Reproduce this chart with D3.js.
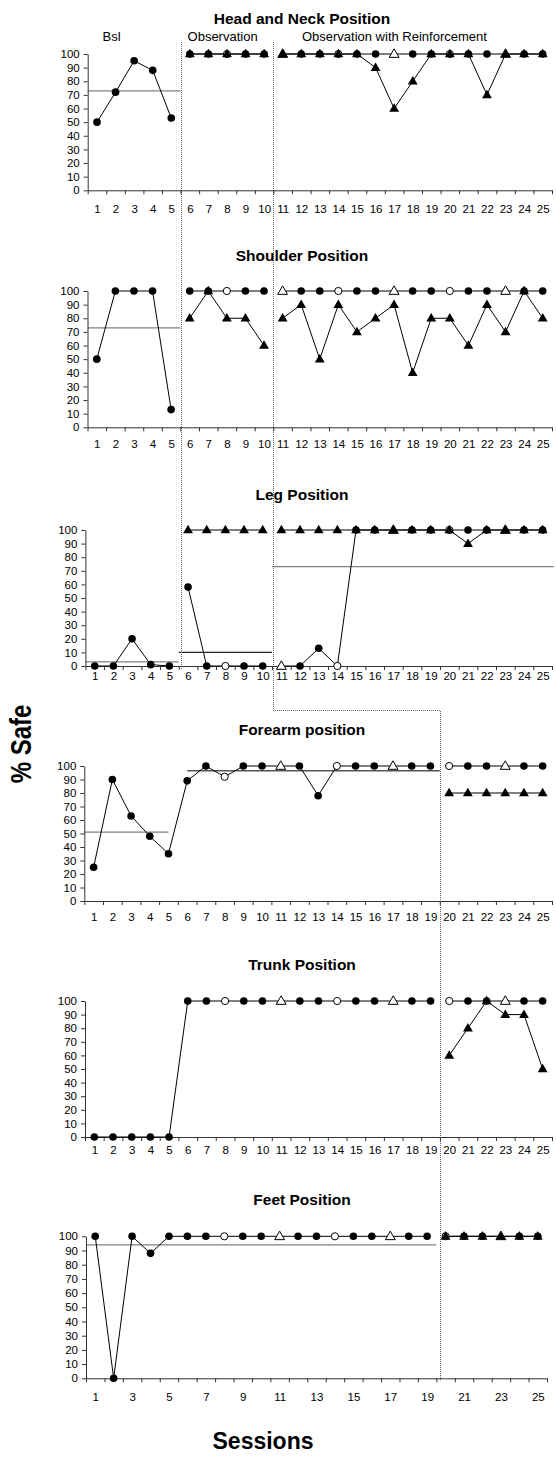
<!DOCTYPE html>
<html><head><meta charset="utf-8">
<script src="https://cdn.jsdelivr.net/npm/d3@7"></script>
<style>body{margin:0;background:#fff} svg{display:block;font-family:"Liberation Sans",Arial,sans-serif}</style>
</head><body>
<svg id="c" width="556" height="1458"></svg>
<script>
// ---------- DATA ----------
const sessions = [1,2,3,4,5,6,7,8,9,10,11,12,13,14,15,16,17,18,19,20,21,22,23,24,25];
const feetTickLabels = [1,3,5,7,9,11,13,15,17,19,21,23,25];
const yTicks = [0,10,20,30,40,50,60,70,80,90,100];
const panelTitles = ["Head and Neck Position","Shoulder Position","Leg Position","Forearm position","Trunk Position","Feet Position"];
const phaseLabels = ["Bsl","Observation","Observation with Reinforcement"];
const openCircleSessions = [8,14,20];
const openTriangleSessions = [11,17,23];

const headUpper = [50,72,95,88,53,100,100,100,100,100,100,100,100,100,100,100,100,100,100,100,100,100,100,100,100];
const headLower = [null,null,null,null,null,100,100,100,100,100,100,100,100,100,100,90,60,80,100,100,100,70,100,100,100];
const headMeans = [73];

const shoulderUpper = [50,100,100,100,13,100,100,100,100,100,100,100,100,100,100,100,100,100,100,100,100,100,100,100,100];
const shoulderLower = [null,null,null,null,null,80,100,80,80,60,80,90,50,90,70,80,90,40,80,80,60,90,70,100,80];
const shoulderMeans = [73];

const legUpper = [0,0,20,1,0,58,0,0,0,0,0,0,13,0,100,100,100,100,100,100,100,100,100,100,100];
const legLower = [null,null,null,null,null,100,100,100,100,100,100,100,100,100,100,100,100,100,100,100,90,100,100,100,100];
const legMeans = [3,10,73];

const forearmUpper = [25,90,63,48,35,89,100,92,100,100,100,100,78,100,100,100,100,100,100,100,100,100,100,100,100];
const forearmLower = [null,null,null,null,null,null,null,null,null,null,null,null,null,null,null,null,null,null,null,80,80,80,80,80,80];
const forearmMeans = [51,96.5];

const trunkUpper = [0,0,0,0,0,100,100,100,100,100,100,100,100,100,100,100,100,100,100,100,100,100,100,100,100];
const trunkLower = [null,null,null,null,null,null,null,null,null,null,null,null,null,null,null,null,null,null,null,60,80,100,90,90,50];
const trunkMeans = [];

const feetUpper = [100,0,100,88,100,100,100,100,100,100,100,100,100,100,100,100,100,100,100,100,100,100,100,100,100];
const feetLower = [null,null,null,null,null,null,null,null,null,null,null,null,null,null,null,null,null,null,null,100,100,100,100,100,100];
const feetMeans = [94];

// ---------- LAYOUT ----------
const threePhases = [[1,5],[6,10],[11,25]];
const twoPhases = [[1,19],[20,25]];
const panels = [
  {title:panelTitles[0], upper:headUpper, lower:headLower, means:headMeans, spans:[[0.5,5.5]], meanColors:["#808080"], phases:threePhases,
   left:87.7,right:552,top:54,bottom:190.3,titleY:18.3,labelOff:18.7,labels:sessions},
  {title:panelTitles[1], upper:shoulderUpper, lower:shoulderLower, means:shoulderMeans, spans:[[0.5,5.5]], meanColors:["#808080"], phases:threePhases,
   left:87.5,right:552,top:291,bottom:427.3,titleY:255.7,labelOff:16.7,labels:sessions},
  {title:panelTitles[2], upper:legUpper, lower:legLower, means:legMeans, spans:[[0.5,5.5],[5.5,10.5],[10.5,25.6]], meanColors:["#808080","#222","#808080"], phases:threePhases,
   left:85.4,right:552,top:530,bottom:666,titleY:494,labelOff:10,labels:sessions},
  {title:panelTitles[3], upper:forearmUpper, lower:forearmLower, means:forearmMeans, spans:[[0.5,5],[6,19.5]], meanColors:["#808080","#555"], phases:twoPhases,
   left:84.3,right:552,top:766,bottom:901,titleY:729,labelOff:16,labels:sessions},
  {title:panelTitles[4], upper:trunkUpper, lower:trunkLower, means:trunkMeans, spans:[], meanColors:[], phases:twoPhases,
   left:85,right:552,top:1001,bottom:1137,titleY:964.3,labelOff:13,labels:sessions},
  {title:panelTitles[5], upper:feetUpper, lower:feetLower, means:feetMeans, spans:[[0.5,19.5]], meanColors:["#808080"], phases:twoPhases,
   left:86,right:547,top:1236.3,bottom:1378.3,titleY:1199,labelOff:18.4,labels:feetTickLabels}
];

const svg = d3.select("#c");
const tickFs = 11.5, titleFs = 15.5;
const boundaries = d3.range(0.5, 26, 1);
const triSym = d3.symbol().type(d3.symbolTriangle).size(42);

const scales = [];
const meanLayer = svg.append("g");
const dotLayer = svg.append("g");

panels.forEach((p, pi) => {
  const x = d3.scaleLinear().domain([0.5, 25.5]).range([p.left, p.right]);
  const y = d3.scaleLinear().domain([0, 100]).range([p.bottom, p.top]);
  scales.push({x, y});
  const g = svg.append("g");

  // title
  g.append("text").attr("x", 302).attr("y", p.titleY + 0.36*titleFs)
    .attr("text-anchor","middle").attr("font-weight","bold").attr("font-size", titleFs).text(p.title);

  // y axis
  const ya = g.append("g").attr("transform", `translate(${p.left},0)`)
    .call(d3.axisLeft(y).tickValues(yTicks).tickSize(4).tickSizeOuter(0).tickPadding(4));
  ya.selectAll("path,line").attr("stroke","#333");
  ya.selectAll("text").attr("font-size", tickFs).attr("font-family", null).attr("fill","#000");

  // x axis ticks
  const xa = g.append("g").attr("transform", `translate(0,${p.bottom})`)
    .call(d3.axisBottom(x).tickValues(boundaries).tickSize(4).tickSizeOuter(0).tickFormat(""));
  xa.selectAll("path,line").attr("stroke","#333");
  // x labels
  const xl = g.append("g").attr("transform", `translate(0,${p.bottom})`)
    .call(d3.axisBottom(x).tickValues(p.labels).tickSize(0).tickPadding(p.labelOff - 0.35*tickFs).tickFormat(d3.format("d")));
  xl.select("path").remove();
  xl.selectAll("text").attr("font-size", tickFs).attr("font-family", null).attr("fill","#000");

  // mean lines
  p.means.forEach((m, i) => {
    meanLayer.append("line")
      .attr("x1", x(p.spans[i][0])).attr("x2", x(p.spans[i][1]))
      .attr("y1", y(m)).attr("y2", y(m))
      .attr("stroke", p.meanColors[i]).attr("stroke-width", 1.3);
  });

  // data lines
  const line = d3.line().defined(d => d.v != null).x(d => x(d.s)).y(d => y(d.v));
  [p.upper, p.lower].forEach(series => {
    p.phases.forEach(([a, b]) => {
      const pts = sessions.filter(s => s >= a && s <= b).map(s => ({s, v: series[s-1]}));
      g.append("path").attr("d", line(pts)).attr("fill","none").attr("stroke","#000").attr("stroke-width",1);
    });
  });

  // upper markers
  sessions.forEach(s => {
    const v = p.upper[s-1];
    if (v == null) return;
    if (openTriangleSessions.includes(s)) {
      g.append("path").attr("d", triSym()).attr("transform", `translate(${x(s)},${y(v)+0.5})`)
        .attr("fill","#fff").attr("stroke","#000").attr("stroke-width",1);
    } else if (openCircleSessions.includes(s)) {
      g.append("circle").attr("cx", x(s)).attr("cy", y(v)).attr("r", 3.6)
        .attr("fill","#fff").attr("stroke","#000").attr("stroke-width",1);
    } else {
      g.append("circle").attr("cx", x(s)).attr("cy", y(v)).attr("r", 3.8).attr("fill","#000");
    }
  });
  // lower markers
  sessions.forEach(s => {
    const v = p.lower[s-1];
    if (v == null) return;
    g.append("path").attr("d", triSym()).attr("transform", `translate(${x(s)},${y(v)+0.5})`).attr("fill","#000");
  });
});

// phase labels
const s0 = scales[0].x;
svg.append("text").attr("x", s0(1.3)).attr("y", 36.7 + 0.36*13).attr("font-size",13).text(phaseLabels[0]);
svg.append("text").attr("x", s0(5.5) + 7).attr("y", 36.7 + 0.36*13).attr("font-size",13).text(phaseLabels[1]);
svg.append("text").attr("x", s0(10.5) + 28.5).attr("y", 36.7 + 0.36*13).attr("font-size",13).text(phaseLabels[2]);

// phase change lines (dotted), snapped to pixel centres
const snap = v => Math.round(v) + 0.5;
const xL1 = snap(s0(5.5)), xL2 = snap(s0(10.5)), xL3 = snap(scales[3].x(19.5));
const topY = panels[0].top - 12;
const l1Bottom = panels[2].bottom + 4;
const elbowY = snap(panels[3].titleY - 19);
const l3Bottom = panels[5].bottom + 3;
dotLayer.append("path")
  .attr("d", `M${xL1},${topY}V${l1Bottom}`)
  .attr("fill","none").attr("stroke","#666").attr("stroke-width",1).attr("stroke-dasharray","1,1");
dotLayer.append("path")
  .attr("d", `M${xL2},${topY}V${elbowY}H${xL3}V${l3Bottom}`)
  .attr("fill","none").attr("stroke","#666").attr("stroke-width",1).attr("stroke-dasharray","1,1");

// axis titles
svg.append("text").attr("transform", "translate(31,744) rotate(-90) scale(1,1.25)")
  .attr("text-anchor","middle").attr("font-size",24).attr("font-weight","bold").text("% Safe");
svg.append("text").attr("x", 263).attr("y", 1448.5)
  .attr("text-anchor","middle").attr("font-size",23).attr("font-weight","bold").text("Sessions");
</script>
</body></html>
